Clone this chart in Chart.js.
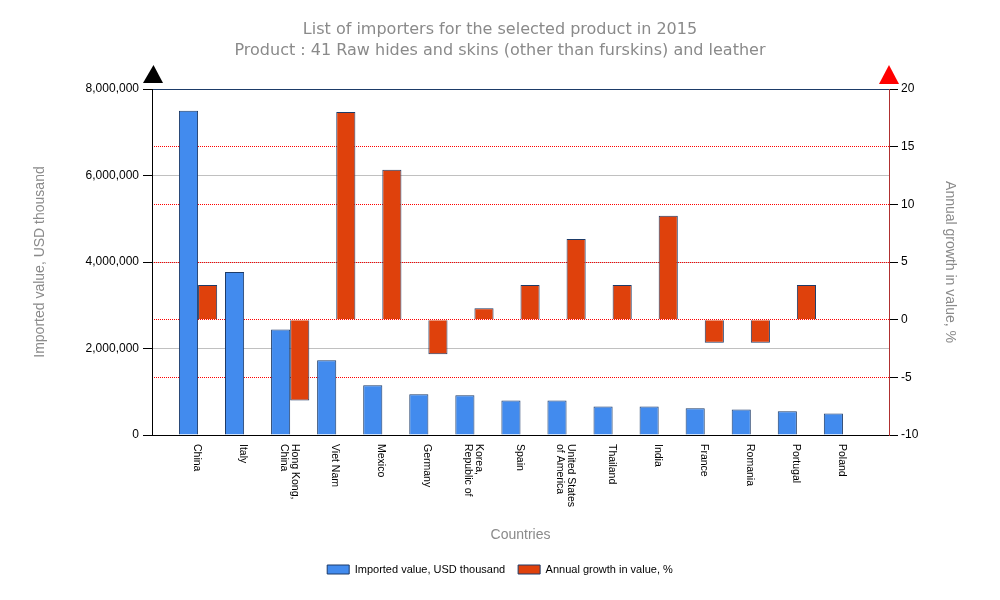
<!DOCTYPE html>
<html>
<head>
<meta charset="utf-8">
<script src="https://cdn.jsdelivr.net/npm/chart.js@4.4.0/dist/chart.umd.min.js"></script>
<style>
  html, body { margin: 0; padding: 0; background: #fff; }
  #wrap { width: 1000px; height: 600px; }
</style>
</head>
<body>
<div id="wrap"><canvas id="chart"></canvas></div>
<script>
const countries = ['China', 'Italy', ['Hong Kong,', 'China'], 'Viet Nam', 'Mexico', 'Germany',
    ['Korea,', 'Republic of'], 'Spain', ['United States', 'of America'], 'Thailand', 'India',
    'France', 'Romania', 'Portugal', 'Poland'];
const importedValues = [7500000, 3770000, 2440000, 1730000, 1150000, 940000, 920000, 800000,
    800000, 660000, 660000, 620000, 590000, 550000, 500000];
const growthValues = [3, null, -7, 18, 13, -3, 1, 3, 7, 3, 9, -2, -2, 3, null];
const valueTicks = [0, 2000000, 4000000, 6000000, 8000000];
const growthTicks = [-10, -5, 0, 5, 10, 15, 20];

const TITLE_GREY = '#8a8a8a';
Chart.defaults.font.family = '"Liberation Sans", Arial, sans-serif';
Chart.defaults.color = '#000';

// an empty slot on both ends, the reference leaves a gap of one column there
const labels = ['', ...countries, ''];
const pad = arr => [null, ...arr, null];

// country names read top to bottom, which chart.js can't do on a bottom axis
const extrasPlugin = {
    id: 'extras',
    afterDraw(chart) {
        const ctx = chart.ctx;
        const ca = chart.chartArea;
        const xs = chart.scales.x;

        ctx.save();
        ctx.fillStyle = '#000';
        ctx.font = '10.5px "Liberation Sans", Arial, sans-serif';
        ctx.textAlign = 'left';
        ctx.textBaseline = 'middle';
        countries.forEach((name, i) => {
            const lines = Array.isArray(name) ? name : [name];
            const x = xs.getPixelForValue(i + 1) - 1;
            ctx.save();
            ctx.translate(x, ca.bottom + 9);
            ctx.rotate(Math.PI / 2);
            lines.forEach((line, k) => {
                ctx.fillText(line, 0, (k - (lines.length - 1) / 2) * 11.5);
            });
            ctx.restore();
        });

        // axis arrows
        ctx.fillStyle = '#000';
        ctx.beginPath();
        ctx.moveTo(ca.left - 9, ca.top - 6);
        ctx.lineTo(ca.left + 1.5, ca.top - 24);
        ctx.lineTo(ca.left + 11, ca.top - 6);
        ctx.closePath();
        ctx.fill();

        ctx.fillStyle = '#ff0000';
        ctx.beginPath();
        ctx.moveTo(ca.right - 10, ca.top - 5);
        ctx.lineTo(ca.right, ca.top - 24);
        ctx.lineTo(ca.right + 10, ca.top - 5);
        ctx.closePath();
        ctx.fill();
        ctx.restore();
    }
};

new Chart(document.getElementById('chart'), {
    type: 'bar',
    data: {
        labels: labels,
        datasets: [{
            label: 'Imported value, USD thousand',
            data: pad(importedValues),
            backgroundColor: '#428bee',
            borderColor: '#1d3b68',
            borderWidth: 1,
            yAxisID: 'y',
            categoryPercentage: 0.83,
            barPercentage: 1
        }, {
            label: 'Annual growth in value, %',
            data: pad(growthValues),
            backgroundColor: '#df410c',
            borderColor: '#1d3b68',
            borderWidth: 1,
            yAxisID: 'y1',
            categoryPercentage: 0.83,
            barPercentage: 1
        }]
    },
    options: {
        responsive: true,
        maintainAspectRatio: false,
        animation: false,
        layout: { padding: { left: 0, right: 0, top: 0, bottom: 15 } },
        plugins: {
            title: {
                display: true,
                text: ['List of importers for the selected product in 2015',
                       'Product : 41 Raw hides and skins (other than furskins) and leather'],
                color: TITLE_GREY,
                font: { family: '"DejaVu Sans", Verdana, sans-serif', size: 16, weight: 'normal', lineHeight: 1.3 },
                padding: { top: 19.6, bottom: 27.8 }
            },
            legend: {
                position: 'bottom',
                labels: {
                    boxWidth: 22,
                    boxHeight: 9,
                    padding: 13,
                    color: '#000',
                    font: { size: 11 }
                }
            },
            tooltip: { enabled: false }
        },
        scales: {
            x: {
                offset: false,
                grid: { display: false },
                border: { color: '#000', width: 1 },
                ticks: { display: false },
                title: {
                    display: true,
                    text: 'Countries',
                    color: TITLE_GREY,
                    font: { size: 14 },
                    padding: { top: 0, bottom: 7.6 }
                },
                afterFit: s => { s.height = 116; }
            },
            y: {
                position: 'left',
                min: 0,
                max: 8000000,
                afterBuildTicks: s => { s.ticks = valueTicks.map(v => ({ value: v })); },
                ticks: {
                    padding: 4,
                    font: { size: 12 },
                    color: '#000',
                    callback: v => v.toLocaleString('en-US')
                },
                grid: {
                    color: c => c.tick.value === 8000000 ? '#1d3b68'
                        : (c.tick.value === 0 ? 'rgba(0,0,0,0)' : '#c0c0c0'),
                    tickColor: '#000',
                    tickLength: 9
                },
                border: { color: '#000', width: 1 },
                title: {
                    display: true,
                    text: 'Imported value, USD thousand',
                    color: TITLE_GREY,
                    font: { size: 14 },
                    padding: { top: 31.6, bottom: 0 }
                },
                afterFit: s => { s.width = 152; }
            },
            y1: {
                position: 'right',
                min: -10,
                max: 20,
                afterBuildTicks: s => { s.ticks = growthTicks.map(v => ({ value: v })); },
                ticks: {
                    padding: 3,
                    font: { size: 12 },
                    color: '#000'
                },
                grid: {
                    color: c => (c.tick.value === 20 || c.tick.value === -10) ? 'rgba(0,0,0,0)' : '#ff0000',
                    tickColor: '#000',
                    tickLength: 9
                },
                border: { color: '#b03030', width: 1, dash: [1, 1] },
                title: {
                    display: true,
                    text: 'Annual growth in value, %',
                    color: TITLE_GREY,
                    font: { size: 14 },
                    padding: { top: 41.6, bottom: 0 }
                },
                afterFit: s => { s.width = 111; }
            }
        }
    },
    plugins: [extrasPlugin]
});
</script>
</body>
</html>
